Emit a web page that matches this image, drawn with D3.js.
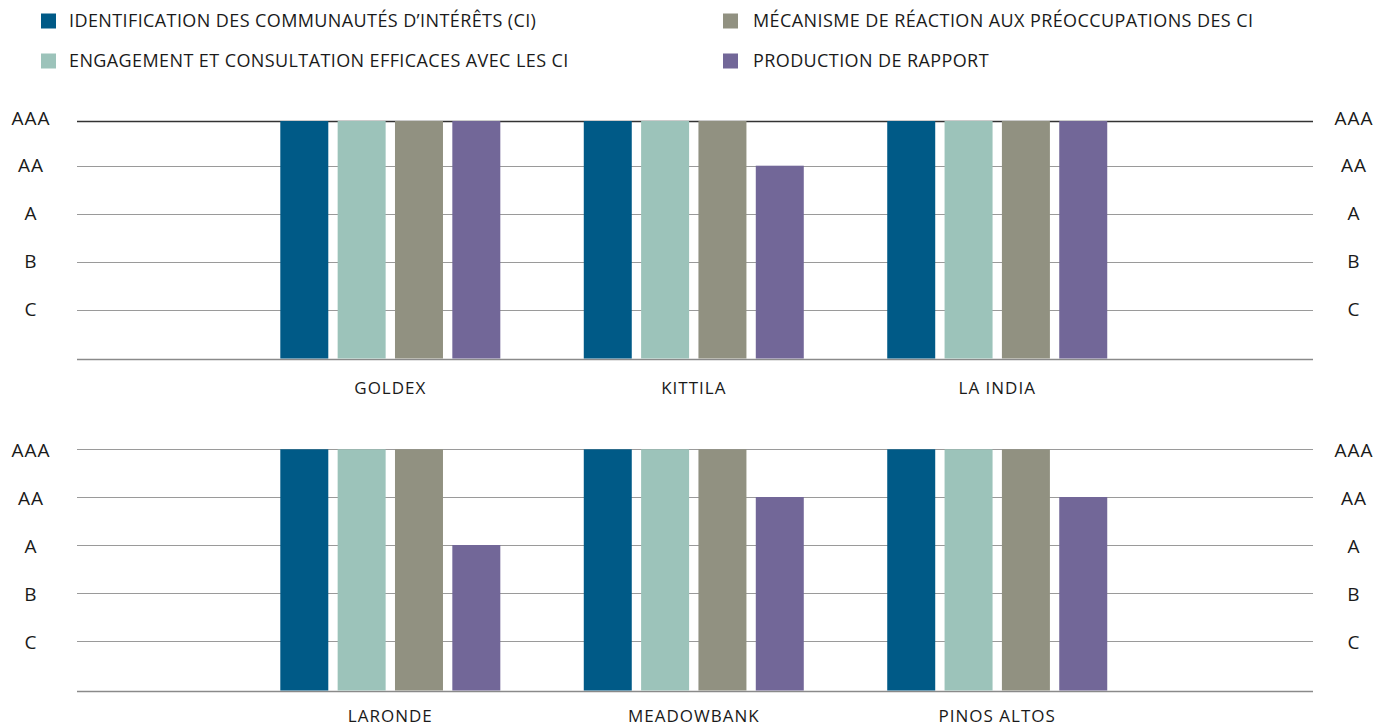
<!DOCTYPE html>
<html>
<head>
<meta charset="utf-8">
<script src="https://cdn.jsdelivr.net/npm/d3@7"></script>
<style>
  html, body { margin: 0; padding: 0; background: #fff; }
  svg { display: block; }
  text { font-family: "Open Sans", "Noto Sans", sans-serif; fill: #1a1a1a; }
</style>
</head>
<body>
<svg id="chart" width="1379" height="726"></svg>
<script>
// ---- data ----
const series = [
  "IDENTIFICATION DES COMMUNAUTÉS D’INTÉRÊTS (CI)",
  "ENGAGEMENT ET CONSULTATION EFFICACES AVEC LES CI",
  "MÉCANISME DE RÉACTION AUX PRÉOCCUPATIONS DES CI",
  "PRODUCTION DE RAPPORT"
];
const colors = ["#005a87", "#9cc3ba", "#919181", "#726798"];
const ratingLabels = ["C", "B", "A", "AA", "AAA"]; // rating levels 1..5
const sitesTop = ["GOLDEX", "KITTILA", "LA INDIA"];
const sitesBottom = ["LARONDE", "MEADOWBANK", "PINOS ALTOS"];
// values: rating level per site (1 = C ... 5 = AAA), sites in order top then bottom
const identification = [5, 5, 5, 5, 5, 5];
const engagement     = [5, 5, 5, 5, 5, 5];
const mecanisme      = [5, 5, 5, 5, 5, 5];
const production     = [5, 4, 5, 3, 4, 4];
const seriesValues = [identification, engagement, mecanisme, production];

// ---- layout ----
const svg = d3.select("#chart");
const plotX0 = 77, plotX1 = 1313;

// legend
const legendPos = [
  {x: 41, y: 21}, {x: 41, y: 61}, {x: 723, y: 21}, {x: 723, y: 61}
];
const legend = svg.append("g").attr("class", "legend");
series.forEach((s, i) => {
  const p = legendPos[i];
  const g = legend.append("g").attr("transform", `translate(${p.x},${p.y})`);
  g.append("rect").attr("x", 0).attr("y", -7.5).attr("width", 15).attr("height", 15).attr("fill", colors[i]);
  g.append("text").attr("x", i < 2 ? 28 : 30).attr("y", 0).attr("dy", "0.35em")
    .style("font-size", "18px").style("letter-spacing", "0.4px").text(s);
});

const panels = [
  { sites: sitesTop, offset: 0, yRange: [358.5, 309.7, 261.7, 213.7, 165.7, 121], topDark: true, catDy: 30 },
  { sites: sitesBottom, offset: 3, yRange: [690.5, 641, 593, 545, 497, 449.3], topDark: false, catDy: 26 }
];

const x0 = d3.scaleBand().range([plotX0, plotX1]).paddingInner(0.275).paddingOuter(0.674).align(0.497);
const x1 = d3.scaleBand().domain(d3.range(series.length)).paddingInner(0.163);

panels.forEach(panel => {
  const y = d3.scaleLinear().domain([0, 1, 2, 3, 4, 5]).range(panel.yRange);
  x0.domain(panel.sites);
  x1.range([0, x0.bandwidth()]);
  const g = svg.append("g");

  // grid lines
  const levels = [0, 1, 2, 3, 4, 5];
  g.selectAll("line.grid").data(levels).join("line")
    .attr("class", "grid")
    .attr("x1", plotX0).attr("x2", plotX1)
    .attr("y1", d => Math.round(y(d)) + 0.5).attr("y2", d => Math.round(y(d)) + 0.5)
    .attr("stroke", d => (d === 5 && panel.topDark) ? "#333" : (d === 0 ? "#8a8a8a" : "#9a9a9a"))
    .attr("stroke-width", d => (d === 0 || (d === 5 && panel.topDark)) ? 1.6 : 1.2);

  // axis labels left and right
  ["left", "right"].forEach(side => {
    g.selectAll("text.lab-" + side).data([1, 2, 3, 4, 5]).join("text")
      .attr("class", "lab-" + side)
      .attr("x", side === "left" ? 31 : 1354)
      .attr("y", d => panel.topDark ? y(d) + (d === 5 ? -3 : 0) : y(d) + 1)
      .attr("dy", "0.35em")
      .attr("text-anchor", "middle")
      .style("font-size", "19px").style("letter-spacing", "1px")
      .text(d => ratingLabels[d - 1]);
  });

  // bars
  const groups = g.selectAll("g.site").data(panel.sites).join("g")
    .attr("class", "site")
    .attr("transform", d => `translate(${x0(d)},0)`);
  groups.selectAll("rect").data((site, si) => seriesValues.map((vals, k) => ({k, v: vals[panel.offset + si]})))
    .join("rect")
    .attr("x", d => x1(d.k))
    .attr("width", x1.bandwidth())
    .attr("y", d => y(d.v))
    .attr("height", d => y(0) - y(d.v))
    .attr("fill", d => colors[d.k]);

  // category labels
  g.selectAll("text.cat").data(panel.sites).join("text")
    .attr("class", "cat")
    .attr("x", d => x0(d) + x0.bandwidth() / 2)
    .attr("y", y(0) + panel.catDy)
    .attr("dy", "0.35em")
    .attr("text-anchor", "middle")
    .style("font-size", "17px").style("letter-spacing", "1px")
    .text(d => d);
});
</script>
</body>
</html>
